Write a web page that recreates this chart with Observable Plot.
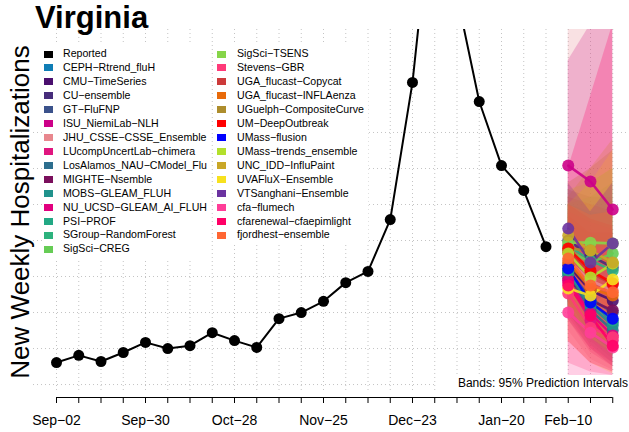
<!DOCTYPE html>
<html><head><meta charset="utf-8">
<script src="https://cdn.jsdelivr.net/npm/d3@7"></script>
<script src="https://cdn.jsdelivr.net/npm/@observablehq/plot@0.6"></script>
<style>
body{margin:0;background:#fff;font-family:"Liberation Sans",Arial,Helvetica,sans-serif;}
#wrap{position:relative;width:629px;height:432px;overflow:hidden;background:#fff;}
#wrap svg{position:absolute;left:0;top:0;}
.title{position:absolute;left:35px;top:2px;font-weight:bold;font-size:31px;line-height:1;white-space:nowrap;}
.ylab{position:absolute;left:19.5px;top:212px;transform:translate(-50%,-50%) rotate(-90deg);font-size:26px;line-height:26px;white-space:nowrap;}
.lbox{position:absolute;background:#fff;}
.key{position:absolute;width:9px;height:7px;}
.ltxt{position:absolute;font-size:10.6px;line-height:1;white-space:nowrap;}
.bands{position:absolute;left:437px;top:375px;width:191px;height:17px;background:#fff;font-size:12px;line-height:17px;text-align:right;white-space:nowrap;}
</style></head><body><div id="wrap"></div>
<script>
// ---------- data ----------
const reportedDates = ["2023-09-02","2023-09-09","2023-09-16","2023-09-23","2023-09-30","2023-10-07","2023-10-14","2023-10-21","2023-10-28","2023-11-04","2023-11-11","2023-11-18","2023-11-25","2023-12-02","2023-12-09","2023-12-16","2023-12-23","2023-12-30","2024-01-06","2024-01-13","2024-01-20","2024-01-27","2024-02-03"];
const reportedValues = [61,81,64,89,117,100,108,144,122,103,183,200,231,283,314,458,839,1420,1080,786,608,539,383];
const forecastDates = ["2024-02-10","2024-02-17","2024-02-24"];
const tickLabelDates = ["2023-09-02","2023-09-30","2023-10-28","2023-11-25","2023-12-23","2024-01-20","2024-02-10"];
const tickLabels = ["Sep\u221202","Sep\u221230","Oct\u221228","Nov\u221225","Dec\u221223","Jan\u221220","Feb\u221210"];
const yGridValues = [0,100,200,300,400,500,600,700];

const models = ["CEPH-Rtrend_fluH","CMU-TimeSeries","CU-ensemble","GT-FluFNP","ISU_NiemiLab-NLH","JHU_CSSE-CSSE_Ensemble","LUcompUncertLab-chimera","LosAlamos_NAU-CModel_Flu","MIGHTE-Nsemble","MOBS-GLEAM_FLUH","NU_UCSD-GLEAM_AI_FLUH","PSI-PROF","SGroup-RandomForest","SigSci-CREG","SigSci-TSENS","Stevens-GBR","UGA_flucast-Copycat","UGA_flucast-INFLAenza","UGuelph-CompositeCurve","UM-DeepOutbreak","UMass-flusion","UMass-trends_ensemble","UNC_IDD-InfluPaint","UVAFluX-Ensemble","VTSanghani-Ensemble","cfa-flumech","cfarenewal-cfaepimlight","fjordhest-ensemble"];
const modelColors = ["#0F7DB5","#4A0F6E","#472D7B","#3B528B","#CC0088","#E8878E","#E0157F","#2D6E8E","#7A0F5C","#20928C","#E2007F","#22A884","#2DB27D","#66CC55","#86D549","#FF3A79","#CC3A3A","#E86A0A","#AD8D2D","#FF0000","#0000FF","#B3E02C","#C9A727","#F7E11E","#6B33A0","#FF3E98","#FF0066","#FF6633"];
// medians for the three forecast weeks
const medWeek1 = [311,331,400,317,608,344,283,303,294,308,289,317,386,372,394,253,367,339,378,378,322,364,414,267,433,200,275,350];
const medWeek2 = [233,261,358,239,564,289,178,206,233,219,197,228,344,339,394,158,311,267,372,317,228,297,372,247,339,144,192,275];
const medWeek3 = [172,233,325,200,486,261,122,150,206,164,136,178,317,364,392,131,278,247,336,281,183,336,339,292,392,103,108,256];
// 95% interval bounds
const loWeek1 = [200,230,280,210,330,150,180,200,180,220,190,220,280,260,300,60,250,230,200,270,230,220,200,120,330,20,120,220];
const loWeek2 = [120,150,210,130,250,70,90,110,100,130,100,130,220,200,250,35,180,160,140,200,140,130,130,60,230,18,60,150];
const loWeek3 = [70,100,160,80,170,40,50,60,50,80,60,80,180,180,210,25,130,110,100,150,90,90,80,30,250,15,35,100];
const hiWeek1 = [450,450,540,440,900,1100,420,430,450,420,420,440,500,500,500,480,520,470,560,500,430,540,520,500,560,420,600,500];
const hiWeek2 = [400,420,520,380,1000,1250,330,350,420,340,330,360,480,520,560,450,500,420,600,460,360,560,600,560,480,380,800,470];
const hiWeek3 = [350,400,520,330,1100,1400,300,300,420,290,270,300,470,560,600,430,480,420,650,440,320,600,680,650,560,380,1000,480];

// ---------- build ----------
const parse = d3.utcParse("%Y-%m-%d");
const reported = reportedDates.map((d,i)=>({date:parse(d), value:reportedValues[i]}));
const gridDates = reportedDates.concat(forecastDates).map(parse);
const labelMap = new Map(tickLabelDates.map((d,i)=>[+parse(d), tickLabels[i]]));
const meds=[medWeek1,medWeek2,medWeek3], los=[loWeek1,loWeek2,loWeek3], his=[hiWeek1,hiWeek2,hiWeek3];
const fc = [];
models.forEach((m,i)=>forecastDates.forEach((d,h)=>fc.push({model:m, color:modelColors[i], date:parse(d), med:meds[h][i], lo:los[h][i], hi:his[h][i]})));

const week = 7*864e5;
const x0 = parse(reportedDates[0]);
const xDomain = [new Date(+x0 - 1.034*week), new Date(+x0 + 25.753*week)];
const yDomain = [-36, 986];
const gridStyle = {stroke:"#c4c4c4", strokeOpacity:1, strokeDasharray:"1,3", strokeWidth:1};

const chart = Plot.plot({
  width:629, height:432,
  marginLeft:33, marginRight:0, marginTop:29, marginBottom:35,
  style:{fontFamily:"Liberation Sans, Arial, sans-serif", background:"transparent", color:"black"},
  x:{type:"utc", domain:xDomain},
  y:{domain:yDomain, axis:null},
  color:{type:"identity"},
  marks:[
    Plot.gridY(yGridValues, gridStyle),
    Plot.gridX(gridDates, {...gridStyle, insetBottom:4}),
    Plot.areaY(fc, {x:"date", y1:"lo", y2:"hi", z:"model", fill:"color", fillOpacity:0.25, clip:true}),
    Plot.line(reported, {x:"date", y:"value", stroke:"black", strokeWidth:2, clip:true}),
    Plot.dot(reported, {x:"date", y:"value", fill:"black", r:5.5, clip:true}),
    Plot.line(fc, {x:"date", y:"med", z:"model", stroke:"color", strokeWidth:2.6, strokeOpacity:0.9, clip:true}),
    Plot.dot(fc, {x:"date", y:"med", fill:"color", r:6, fillOpacity:0.9, clip:true}),
    Plot.ruleY([yDomain[0]], {x1:gridDates[0], x2:gridDates[gridDates.length-1], stroke:"black", strokeWidth:1}),
    Plot.axisX(gridDates, {tickSize:6, tickPadding:12, fontSize:14, stroke:"black", tickFormat:d=>labelMap.get(+d) ?? ""})
  ]
});
const wrap = document.getElementById("wrap");
wrap.appendChild(chart);

// title and y label
const t = document.createElement("div"); t.className="title"; t.textContent="Virginia"; wrap.appendChild(t);
const yl = document.createElement("div"); yl.className="ylab"; yl.textContent="New Weekly Hospitalizations"; wrap.appendChild(yl);

// legend
const legendNames = ["Reported"].concat(models);
const legendColors = ["#000000"].concat(modelColors);
const colX = [{box:42, key:44, txt:63, w:168}, {box:213, key:217, txt:237, w:155}];
const y0 = 54, step = 13.93;
[[0,15],[15,29]].forEach(([a,b],c)=>{
  const box = document.createElement("div"); box.className="lbox";
  box.style.left=colX[c].box+"px"; box.style.top="45px"; box.style.width=colX[c].w+"px";
  box.style.height=((b-a-1)*step+18)+"px"; wrap.appendChild(box);
  for(let i=a;i<b;i++){
    const yc = y0 + (i-a)*step;
    const k=document.createElement("div"); k.className="key"; k.style.background=legendColors[i];
    k.style.left=colX[c].key+"px"; k.style.top=(yc-3.5)+"px"; wrap.appendChild(k);
    const s=document.createElement("div"); s.className="ltxt"; s.textContent=legendNames[i].replace(/-/g,"\u2212");
    s.style.left=colX[c].txt+"px"; s.style.top=(yc-5.6)+"px"; wrap.appendChild(s);
  }
});
const bnd=document.createElement("div"); bnd.className="bands"; bnd.textContent="Bands: 95% Prediction Intervals"; wrap.appendChild(bnd);
</script></body></html>
